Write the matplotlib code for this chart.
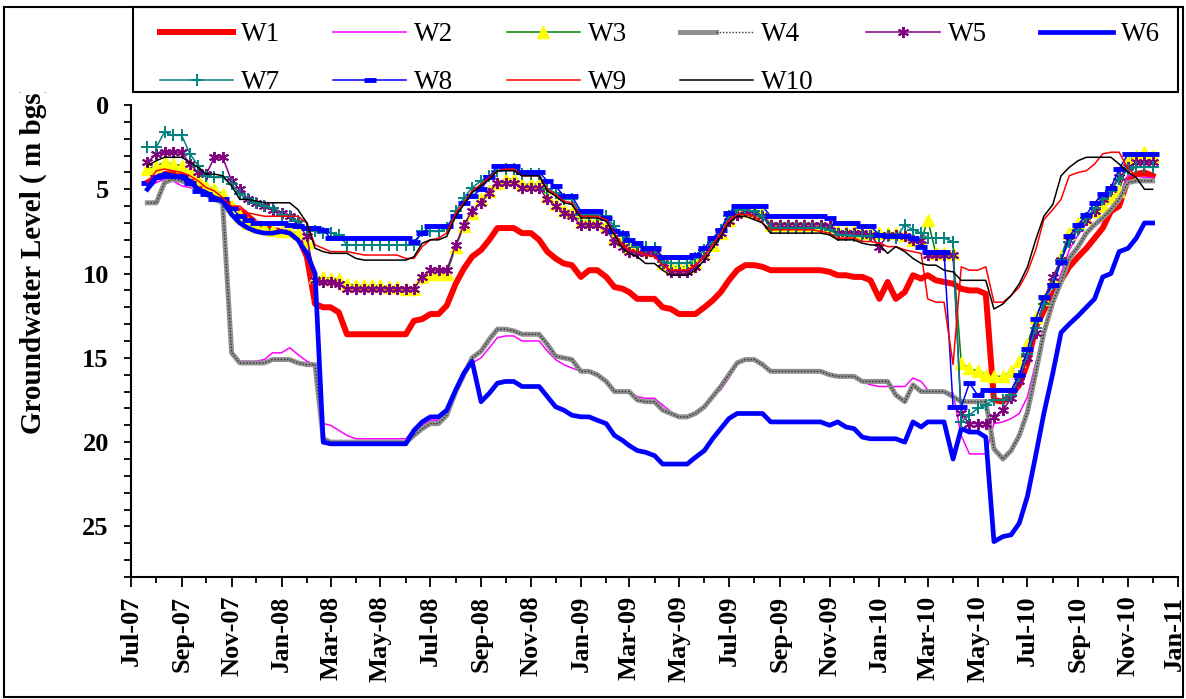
from datetime import date

import matplotlib
matplotlib.use("Agg")
import matplotlib.dates as mdates
import matplotlib.pyplot as plt
from matplotlib.legend_handler import HandlerTuple
from matplotlib.patches import Rectangle
from matplotlib.ticker import MultipleLocator
from matplotlib.transforms import Bbox, TransformedBbox, ScaledTranslation

plt.rcParams['font.family'] = ['Liberation Serif', 'DejaVu Serif']

# observation dates: ~10 day readings, Jul 2007 - Dec 2010
dates = [date(2007, 7, 21)]
for k in range(40):
    yr = 2007 + (7 + k) // 12
    mo = (7 + k) % 12 + 1
    dates += [date(yr, mo, 1), date(yr, mo, 11), date(yr, mo, 21)]
dates.append(date(2010, 12, 1))

# depth to groundwater (m bgs) per well
W1 = [4.6, 4.3, 4.1, 4.0, 4.1, 4.2, 4.6, 5.0, 5.3, 5.6,
      6.0, 6.3, 6.6, 7.0, 7.2, 7.4, 7.5, 7.6, 7.8, 9.0, 11.8, 12.0,
      12.0, 12.3, 13.6, 13.6, 13.6, 13.6, 13.6, 13.6, 13.6, 13.6, 12.8, 12.7,
      12.4, 12.4, 11.9, 10.6, 9.7, 9.0, 8.6, 8.0, 7.3, 7.3, 7.3, 7.6,
      7.6, 8.0, 8.7, 9.1, 9.4, 9.5, 10.2, 9.8, 9.8, 10.2, 10.8, 10.9,
      11.1, 11.5, 11.5, 11.5, 12.0, 12.1, 12.4, 12.4, 12.4, 12.0, 11.6, 11.1,
      10.4, 9.8, 9.5, 9.5, 9.6, 9.8, 9.8, 9.8, 9.8, 9.8, 9.8, 9.8,
      9.9, 10.1, 10.1, 10.2, 10.2, 10.4, 11.5, 10.5, 11.5, 11.1, 10.1, 10.3,
      10.1, 10.4, 10.5, 10.6, 10.9, 11.0, 11.0, 11.2, 17.5, 17.6, 17.2, 16.6,
      15.3, 13.2, 12.2, 11.2, 10.4, 9.6, 9.0, 8.5, 7.9, 7.3, 6.3, 6.0,
      4.4, 4.1, 4.0, 4.2]
W2 = [4.9, 4.6, 4.4, 4.5, 4.8, 4.9, 5.0, 5.2, 5.5, 5.8,
      14.6, 15.2, 15.2, 15.2, 15.1, 14.7, 14.7, 14.4, 14.8, 15.2, 15.4, 18.9,
      19.0, 19.3, 19.6, 19.8, 19.8, 19.8, 19.8, 19.8, 19.8, 19.8, 19.2, 19.0,
      18.7, 18.7, 18.3, 17.2, 16.0, 15.3, 15.0, 14.4, 13.8, 13.7, 13.7, 14.0,
      14.0, 14.0, 14.6, 15.1, 15.4, 15.6, 15.8, 15.8, 16.0, 16.5, 17.0, 17.0,
      17.0, 17.3, 17.4, 17.4, 17.8, 18.2, 18.5, 18.5, 18.4, 18.0, 17.3, 16.9,
      16.2, 15.3, 15.1, 15.1, 15.3, 15.8, 15.8, 15.8, 15.8, 15.8, 15.8, 15.8,
      16.0, 16.1, 16.1, 16.1, 16.4, 16.6, 16.7, 16.7, 16.7, 16.7, 16.2, 16.4,
      16.9, 17.0, 17.0, 17.1, 19.6, 20.7, 20.7, 20.7, 18.9, 18.8, 18.6, 18.3,
      17.3, 15.3, 13.8, 11.5, 10.0, 8.6, 7.7, 7.0, 6.4, 6.0, 5.8, 5.4,
      4.2, 4.2, 4.3, 4.3]
W3 = [3.8, 3.6, 3.4, 3.5, 3.6, 4.0, 4.4, 4.8, 5.0, 5.3,
      6.0, 6.6, 7.0, 7.2, 7.3, 7.4, 7.5, 7.5, 7.6, 8.1, 10.2, 10.2,
      10.3, 10.3, 10.6, 10.7, 10.7, 10.7, 10.7, 10.8, 10.8, 10.9, 10.9, 10.2,
      10.0, 10.0, 10.0, 8.4, 7.2, 6.4, 5.6, 5.1, 4.6, 4.4, 4.4, 4.7,
      4.7, 4.7, 5.4, 5.9, 6.2, 6.3, 6.9, 6.9, 6.9, 7.2, 7.9, 8.0,
      8.4, 8.5, 8.6, 8.6, 9.4, 9.6, 9.6, 9.6, 9.4, 8.8, 8.3, 7.6,
      6.8, 6.3, 6.3, 6.3, 6.4, 7.1, 7.1, 7.1, 7.1, 7.1, 7.1, 7.1,
      7.2, 7.5, 7.5, 7.5, 7.6, 7.6, 7.6, 7.6, 7.6, 7.7, 8.0, 8.1,
      6.8, 8.8, 8.8, 8.8, 15.3, 15.6, 15.8, 16.0, 16.1, 16.1, 15.8, 15.2,
      14.2, 12.6, 11.5, 10.4, 9.0, 7.6, 7.0, 6.7, 6.3, 6.0, 5.5, 5.1,
      3.3, 3.0, 2.8, 3.0]
W4 = [5.8, 5.8, 4.6, 4.4, 4.5, 4.7, 5.0, 5.3, 5.6, 5.8,
      14.7, 15.3, 15.3, 15.3, 15.3, 15.1, 15.1, 15.1, 15.3, 15.4, 15.4, 19.8,
      20.0, 20.0, 20.0, 20.0, 20.0, 20.0, 20.0, 20.0, 20.0, 20.0, 19.6, 19.2,
      18.9, 18.9, 18.4, 17.0, 16.0, 15.0, 14.6, 13.9, 13.3, 13.3, 13.4, 13.6,
      13.6, 13.6, 14.2, 14.9, 15.0, 15.1, 15.8, 15.8, 16.0, 16.4, 17.0, 17.0,
      17.0, 17.5, 17.6, 17.6, 18.1, 18.3, 18.5, 18.5, 18.3, 17.9, 17.3, 16.7,
      16.0, 15.3, 15.1, 15.1, 15.4, 15.8, 15.8, 15.8, 15.8, 15.8, 15.8, 15.8,
      16.0, 16.1, 16.1, 16.1, 16.4, 16.4, 16.4, 16.4, 17.2, 17.6, 16.6, 17.0,
      17.0, 17.0, 17.0, 17.3, 17.6, 17.6, 17.6, 17.6, 20.4, 21.0, 20.5, 19.6,
      18.2, 15.9, 13.5, 11.7, 10.5, 9.1, 8.4, 7.6, 7.1, 6.7, 6.2, 5.6,
      4.6, 4.5, 4.5, 4.5]
W5 = [3.4, 2.9, 2.8, 2.8, 2.8, 3.5, 4.0, 4.1, 3.1, 3.1,
      4.5, 5.0, 5.6, 5.8, 6.0, 6.2, 6.4, 6.6, 7.0, 7.8, 10.4, 10.5,
      10.5, 10.6, 10.9, 10.9, 10.9, 10.9, 10.9, 10.9, 10.9, 10.9, 10.9, 10.2,
      9.8, 9.8, 9.8, 8.3, 7.1, 6.3, 5.8, 5.2, 4.6, 4.6, 4.6, 4.9,
      4.9, 4.9, 5.6, 6.0, 6.4, 6.6, 7.1, 7.1, 7.1, 7.4, 8.1, 8.4,
      8.7, 8.8, 8.8, 8.8, 9.4, 9.9, 9.9, 9.9, 9.6, 9.0, 8.1, 7.6,
      6.9, 6.5, 6.3, 6.4, 6.6, 7.1, 7.1, 7.1, 7.1, 7.1, 7.1, 7.1,
      7.2, 7.6, 7.6, 7.6, 7.6, 7.7, 8.4, 7.7, 7.7, 7.8, 8.0, 8.0,
      8.9, 8.9, 8.9, 8.9, 18.3, 18.9, 18.9, 18.9, 18.5, 18.1, 17.4, 16.4,
      15.0, 13.5, 11.6, 10.2, 9.2, 8.0, 7.3, 6.8, 6.3, 5.6, 5.0, 4.3,
      3.7, 3.4, 3.4, 3.4]
W6 = [5.0, 4.3, 4.1, 4.2, 4.3, 4.5, 5.0, 5.2, 5.5, 5.7,
      6.5, 7.0, 7.3, 7.5, 7.6, 7.6, 7.5, 7.6, 8.0, 8.8, 10.0, 20.0,
      20.1, 20.1, 20.1, 20.1, 20.1, 20.1, 20.1, 20.1, 20.1, 20.1, 19.3, 18.8,
      18.5, 18.5, 18.1, 16.9, 15.9, 15.2, 17.6, 17.1, 16.5, 16.4, 16.4, 16.7,
      16.7, 16.7, 17.3, 17.9, 18.1, 18.4, 18.5, 18.5, 18.7, 18.9, 19.6, 19.9,
      20.2, 20.5, 20.6, 20.8, 21.3, 21.3, 21.3, 21.3, 20.9, 20.5, 19.8, 19.2,
      18.6, 18.3, 18.3, 18.3, 18.3, 18.8, 18.8, 18.8, 18.8, 18.8, 18.8, 18.8,
      19.0, 18.8, 19.1, 19.2, 19.7, 19.8, 19.8, 19.8, 19.8, 20.0, 18.8, 19.1,
      18.8, 18.8, 18.8, 21.0, 19.2, 19.4, 19.4, 19.7, 25.9, 25.6, 25.5, 24.8,
      23.2, 20.8, 18.3, 15.9, 13.5, 13.0, 12.5, 12.0, 11.5, 10.2, 10.0, 8.7,
      8.5, 7.9, 7.0, 7.0]
W7 = [2.5, 2.5, 1.6, 1.8, 1.8, 2.9, 3.6, 4.2, 4.3, 4.3,
      4.7, 5.3, 5.6, 5.8, 6.0, 6.1, 6.5, 6.6, 6.9, 7.3, 7.5, 7.6,
      7.6, 7.7, 8.3, 8.3, 8.3, 8.3, 8.3, 8.3, 8.3, 8.3, 8.3, 7.5,
      7.5, 7.5, 7.3, 6.3, 5.5, 4.9, 4.5, 4.2, 3.9, 3.8, 3.8, 4.1,
      4.1, 4.1, 5.0, 5.2, 5.6, 5.6, 6.5, 6.5, 6.5, 6.6, 7.2, 7.8,
      8.0, 8.4, 8.4, 8.5, 9.3, 9.4, 9.4, 9.4, 9.1, 8.6, 8.1, 7.4,
      6.6, 6.2, 6.2, 6.3, 6.6, 7.3, 7.3, 7.3, 7.3, 7.3, 7.3, 7.3,
      7.4, 7.7, 7.7, 7.8, 7.8, 7.8, 7.8, 7.8, 7.9, 7.1, 7.4, 7.6,
      7.9, 7.9, 7.9, 8.1, 18.8, 18.4, 18.0, 17.8, 17.5, 17.5, 17.2, 16.1,
      14.8, 13.2, 11.8, 10.6, 9.2, 8.1, 7.4, 6.7, 6.1, 5.6, 5.1, 4.4,
      3.8, 3.7, 3.7, 3.7]
W8 = [4.6, 4.3, 4.2, 4.2, 4.2, 4.6, 5.1, 5.3, 5.6, 5.6,
      6.1, 6.6, 6.8, 7.0, 7.0, 7.0, 7.0, 7.1, 7.2, 7.3, 7.3, 7.4,
      7.9, 7.9, 7.9, 7.9, 7.9, 7.9, 7.9, 7.9, 7.9, 7.9, 8.1, 7.6,
      7.2, 7.2, 7.2, 6.6, 5.8, 5.4, 5.0, 4.3, 3.6, 3.6, 3.6, 4.0,
      4.0, 4.0, 4.5, 4.8, 5.4, 5.4, 6.3, 6.3, 6.3, 6.7, 7.5, 7.6,
      8.0, 8.2, 8.5, 8.5, 9.0, 9.0, 9.0, 9.0, 8.9, 8.5, 7.9, 7.4,
      6.4, 6.0, 6.0, 6.0, 6.0, 6.6, 6.6, 6.6, 6.6, 6.6, 6.6, 6.6,
      6.7, 7.0, 7.0, 7.0, 7.2, 7.2, 7.7, 7.8, 7.8, 7.8, 7.9, 8.4,
      8.7, 8.7, 8.7, 17.9, 17.9, 16.5, 17.2, 16.9, 16.9, 16.9, 16.9, 16.0,
      14.5, 12.7, 11.4, 10.7, 9.3, 7.8, 7.1, 6.5, 5.8, 5.3, 4.9, 3.8,
      2.9, 2.9, 2.9, 2.9]
W9 = [4.6, 3.9, 3.8, 3.9, 4.0, 4.2, 4.5, 4.9, 5.1, 5.5,
      6.0, 6.0, 6.4, 6.5, 6.6, 6.6, 6.6, 6.6, 6.6, 7.0, 8.3, 8.5,
      8.7, 8.7, 8.7, 8.8, 8.9, 8.9, 8.9, 8.9, 8.9, 9.1, 9.1, 8.4,
      8.0, 7.9, 7.6, 6.4, 5.8, 5.1, 4.7, 4.3, 3.9, 3.8, 3.8, 4.2,
      4.2, 4.2, 5.0, 5.3, 5.7, 5.8, 6.6, 6.6, 6.6, 6.8, 7.6, 8.3,
      8.6, 8.7, 8.9, 9.0, 9.5, 9.8, 9.8, 9.8, 9.5, 9.0, 8.3, 7.6,
      6.8, 6.5, 6.5, 6.6, 7.0, 7.4, 7.4, 7.4, 7.4, 7.4, 7.4, 7.5,
      7.6, 7.9, 7.9, 7.9, 8.1, 8.1, 8.2, 8.4, 8.4, 8.6, 8.7, 8.8,
      11.5, 11.7, 11.7, 15.4, 9.6, 9.8, 9.8, 9.6, 11.7, 11.7, 11.3, 10.8,
      9.9, 8.6, 6.8, 6.2, 5.6, 4.2, 4.0, 3.9, 3.5, 2.9, 2.8, 2.8,
      3.8, 4.2, 4.2, 4.2]
W10 = [3.6, 3.3, 3.1, 3.1, 3.1, 3.4, 3.7, 4.1, 4.1, 4.2,
       4.8, 5.6, 5.6, 5.7, 5.8, 5.8, 5.8, 5.8, 6.2, 7.0, 8.5, 8.7,
       8.8, 8.8, 8.8, 9.1, 9.2, 9.2, 9.2, 9.2, 9.2, 9.2, 9.0, 8.2,
       8.0, 8.0, 7.8, 6.6, 5.9, 5.2, 4.8, 4.4, 3.9, 3.9, 3.9, 4.2,
       4.2, 4.2, 5.1, 5.4, 5.8, 5.9, 6.7, 6.7, 6.7, 6.9, 7.7, 8.5,
       8.8, 9.0, 9.4, 9.4, 9.8, 10.1, 10.1, 10.1, 9.8, 9.2, 8.5, 7.8,
       7.0, 6.6, 6.6, 6.8, 7.0, 7.6, 7.6, 7.6, 7.6, 7.6, 7.6, 7.6,
       7.7, 8.0, 8.0, 8.0, 8.2, 8.3, 8.3, 8.8, 8.4, 8.7, 9.1, 9.4,
       9.5, 9.5, 9.8, 9.9, 10.4, 10.4, 10.4, 10.4, 12.1, 11.8, 11.3, 10.6,
       9.6, 8.0, 6.6, 5.9, 4.2, 3.7, 3.3, 3.1, 3.1, 3.1, 3.1, 3.5,
       4.0, 4.3, 5.0, 5.0]

W, H = 1186, 699
fig = plt.figure(figsize=(W / 100, H / 100), dpi=100)
ax = fig.add_axes([131 / W, 1 - 577 / H, (1178 - 131) / W, (577 - 105) / H])

thin = 1.1
l1, = ax.plot(dates, W1, color='#ff0000', lw=4.3, solid_joinstyle='round')
l2, = ax.plot(dates, W2, color='#ff00ff', lw=thin)
l3, = ax.plot(dates, W3, color='#008000', lw=thin, marker='^', ms=9,
              mfc='#ffff00', mec='#ffff00')
l4a, = ax.plot(dates, W4, color='#909090', lw=3.6)
l4b, = ax.plot(dates, W4, color='#303030', lw=1.0, ls=(0, (1, 1.3)))
l5, = ax.plot(dates, W5, color='#800080', lw=thin, marker=(6, 2, 0), ms=8,
              mec='#800080', mew=1.4)
l6, = ax.plot(dates, W6, color='#0000ff', lw=3.4, solid_joinstyle='round')
l7, = ax.plot(dates, W7, color='#008080', lw=thin, marker='+', ms=9,
              mec='#008080', mew=1.4)
l8, = ax.plot(dates, W8, color='#0000ff', lw=thin, marker='_', ms=8,
              mec='#0000ff', mew=3.5)
l9, = ax.plot(dates, W9, color='#ff0000', lw=thin)
l10, = ax.plot(dates, W10, color='#000000', lw=thin)

ax.set_xlim(date(2007, 7, 1), date(2011, 1, 1))
ax.set_ylim(28, 0)
ax.xaxis.set_major_locator(mdates.MonthLocator(bymonth=[1, 3, 5, 7, 9, 11]))
ax.xaxis.set_minor_locator(mdates.MonthLocator())
ax.xaxis.set_major_formatter(mdates.DateFormatter('%b-%y'))
ax.yaxis.set_major_locator(MultipleLocator(5))
ax.yaxis.set_minor_locator(MultipleLocator(1))

for s in ['top', 'right']:
    ax.spines[s].set_visible(False)
for s in ['left', 'bottom']:
    ax.spines[s].set_linewidth(1.5)

ax.tick_params(axis='x', which='major', direction='out', length=7.5, width=1.3, pad=6)
ax.tick_params(axis='x', which='minor', direction='out', length=4.5, width=1.3)
ax.tick_params(axis='y', which='both', direction='out', length=5, width=1.3, pad=11)
xlabels = ax.get_xticklabels()
for lab in xlabels:
    lab.set_rotation(90)
    lab.set_fontsize(19)
    lab.set_fontweight('bold')
# keep the last date label inside the frame
xlabels[-1].set_transform(xlabels[-1].get_transform() +
                          ScaledTranslation(-4 / 100, 0, fig.dpi_scale_trans))
for lab in ax.get_yticklabels():
    lab.set_fontsize(19)
    lab.set_fontweight('bold')

ylab = fig.text(33 / W, 1 - 258 / H, 'Groundwater Level ( m bgs)', rotation=90,
                ha='center', va='center', fontsize=21, fontweight='bold')
ylab.set_clip_box(TransformedBbox(Bbox([[0, 0], [1, 1 - 92 / H]]), fig.transFigure))
ylab.set_clip_on(True)

# legend: row-wise W1..W6 / W7..W10 with 6 columns
handles = [l1, l7, l2, l8, l3, l9, (l4a, l4b), l10, l5, l6]
labels = ['W1', 'W7', 'W2', 'W8', 'W3', 'W9', 'W4', 'W10', 'W5', 'W6']
fig.legend(handles, labels, ncol=6, loc='upper left',
           bbox_to_anchor=(160 / W, 1 - 22 / H), frameon=False,
           prop={'family': 'Liberation Serif', 'size': 19.5},
           handlelength=2.7, handletextpad=0.3, columnspacing=1.95,
           labelspacing=0.85, borderpad=0, borderaxespad=0,
           handler_map={tuple: HandlerTuple(ndivide=None)})

fig.patches.append(Rectangle((133 / W, 1 - 92 / H), (1178 - 133) / W, 85 / H,
                             transform=fig.transFigure, fill=False,
                             edgecolor='black', lw=1.5))
fig.patches.append(Rectangle((4 / W, 2 / H), 1179 / W, 690 / H,
                             transform=fig.transFigure, fill=False,
                             edgecolor='black', lw=1.5))

fig.savefig('out.png', dpi=100)
